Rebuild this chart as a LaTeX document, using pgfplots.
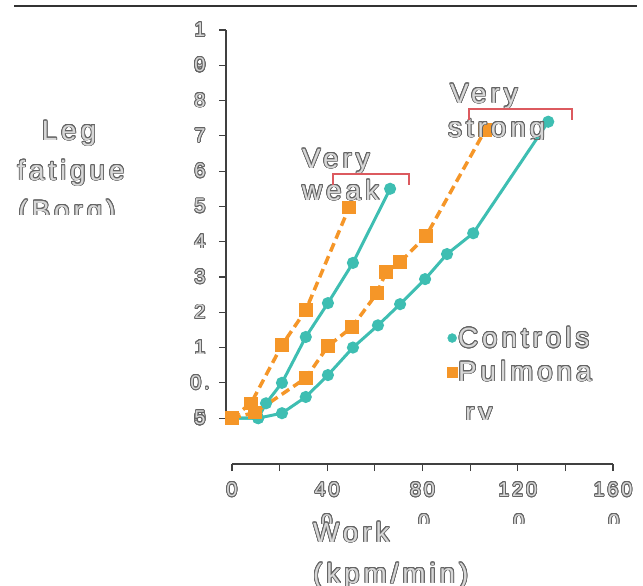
\documentclass[border=0pt]{standalone}
\usepackage{fontspec}
\setmainfont{Liberation Sans}
\newfontfamily\spaced{Liberation Sans}[LetterSpace=14]
\usepackage{pgfplots}
\pgfplotsset{compat=1.18}
\usepackage{contour}
\contourlength{0.8pt}
\contournumber{20}
\definecolor{ctrl}{RGB}{62,190,178}
\definecolor{pulm}{RGB}{245,150,40}
\definecolor{txtfill}{RGB}{215,215,215}
\definecolor{txtline}{RGB}{100,100,100}
\definecolor{brk}{RGB}{220,90,95}
\newcommand{\ol}[1]{{\color{txtfill}\contour{txtline}{#1}}}
\newcommand{\bigsp}{\spaced\fontsize{28}{34}\selectfont}
\newcommand{\smsp}{\spaced\fontsize{20}{29}\selectfont}
\begin{document}
\begin{tikzpicture}
\useasboundingbox (0,0) rectangle (643bp,-586bp);
\begin{scope}[x=1bp,y=-1bp]
\draw[line width=1.5bp, black!80] (14,6) -- (637,6);
\draw[line width=1.3bp, black!75] (226,30) -- (226,418);
\draw[line width=1.3bp, black!75] (232,464) -- (613,464);
\end{scope}
\begin{axis}[
  at={(226bp,-464bp)}, anchor=south west,
  scale only axis, width=387bp, height=434bp,
  xmin=-2.5, xmax=160, ymin=-0.65, ymax=10,
  y coord trafo/.code={\pgfmathparse{(#1)<1 ? 2*(#1) : (#1)+1}},
  axis x line*=bottom, axis y line*=left,
  axis line style={draw=none},
  tick align=outside, major tick length=7bp,
  tick style={black!75, line width=1.2bp},
  xtick={0,20,40,60,80,100,120,140,160},
  xticklabels={\ol{0},,\ol{40},,\ol{80},,\ol{120},,\ol{160}},
  xticklabel style={font=\smsp, yshift=-8bp},
  ytick={0,0.5,1,2,3,4,5,6,7,8,9,10},
  yticklabels={\ol{0},\ol{0.},\ol{1},\ol{2},\ol{3},\ol{4},\ol{5},\ol{6},\ol{7},\ol{8},\ol{9},\ol{1}},
  extra y ticks={0,9},
  extra y tick labels={\ol{5},\ol{0}},
  yticklabel style={font=\smsp, anchor=center, xshift=-19bp},
  clip=false,
  legend style={at={(axis description cs:0.571,0.318)}, anchor=north west, draw=none, fill=none,
    font=\bigsp, row sep=10bp, inner sep=0pt, nodes={inner sep=1bp}},
  legend cell align=left,
  legend image code/.code={\draw[#1] plot coordinates {(0bp,0bp)};},
]
\addlegendimage{only marks, mark=*, mark size=4.5bp, color=ctrl}
\addlegendentry{\ol{Controls}}
\addlegendimage{only marks, mark=square*, mark size=5bp, color=pulm}
\addlegendentry{\ol{Pulmona}}
% Controls (first curve)
\addplot[forget plot, color=ctrl, line width=3bp, mark=*, mark size=4.5bp] coordinates {
  (0,0) (11,0) (14.3,0.21) (21,0.5) (31,1.3) (40.3,2.26) (50.8,3.4) (66.4,5.5)};
% Controls (second curve)
\addplot[forget plot, color=ctrl, line width=3bp, mark=*, mark size=4.5bp] coordinates {
  (0,0) (11,0) (21,0.07) (31,0.3) (40.3,0.61) (50.8,1.0) (61.3,1.63) (70.6,2.23) (81.1,2.94) (90.3,3.65) (101.3,4.24) (132.8,7.4)};
% Pulmonary (first curve)
\addplot[forget plot, color=pulm, line width=3.5bp, dash pattern=on 9bp off 5bp, mark=square*, mark size=5bp, mark options={solid}] coordinates {
  (0,0) (8,0.21) (21,1.07) (31,2.06) (49.2,4.97)};
% Pulmonary (second curve)
\addplot[forget plot, color=pulm, line width=3.5bp, dash pattern=on 9bp off 5bp, mark=square*, mark size=5bp, mark options={solid}] coordinates {
  (0,0) (9.7,0.08) (31.1,0.57) (40.3,1.04) (50.4,1.58) (60.9,2.54) (64.7,3.14) (70.6,3.42) (81.5,4.16) (106.3,7.16)};
\end{axis}
\begin{scope}[x=1bp,y=-1bp, font=\bigsp]
\node[anchor=base] at (69,140) {\ol{Leg}};
\node[anchor=base] at (71,180) {\ol{fatigue}};
\begin{scope}
\clip (0,0) rectangle (200,214);
\node[anchor=base] at (67,220) {\ol{(Borg)}};
\end{scope}
\begin{scope}
\clip (240,505) rectangle (643,523);
\foreach \xx in {327,424,519,614} \node[anchor=base, font=\smsp] at (\xx,528) {\ol{0}};
\end{scope}
\node[anchor=base west, inner sep=0pt] at (302,168) {\ol{Very}};
\node[anchor=base west, inner sep=0pt] at (302,200) {\ol{weak}};
\node[anchor=base west, inner sep=0pt] at (450,103) {\ol{Very}};
\begin{scope}
\clip (400,110) rectangle (600,139);
\node[anchor=base west, inner sep=0pt] at (448,137) {\ol{strong}};
\end{scope}
\begin{scope}
\clip (440,395) rectangle (600,419);
\node[anchor=base west, inner sep=0pt] at (465,422) {\ol{ry}};
\end{scope}
\node[anchor=base west, inner sep=0pt] at (313,542) {\ol{Work}};
\node[anchor=base west, inner sep=0pt] at (313,583) {\ol{(kpm/min)}};
\draw[brk, line width=1.3bp] (333,185) -- (333,174) -- (409,174) -- (409,185);
\draw[brk, line width=1.3bp] (469,120) -- (469,109) -- (572,109) -- (572,120);
\end{scope}
\end{tikzpicture}
\end{document}
